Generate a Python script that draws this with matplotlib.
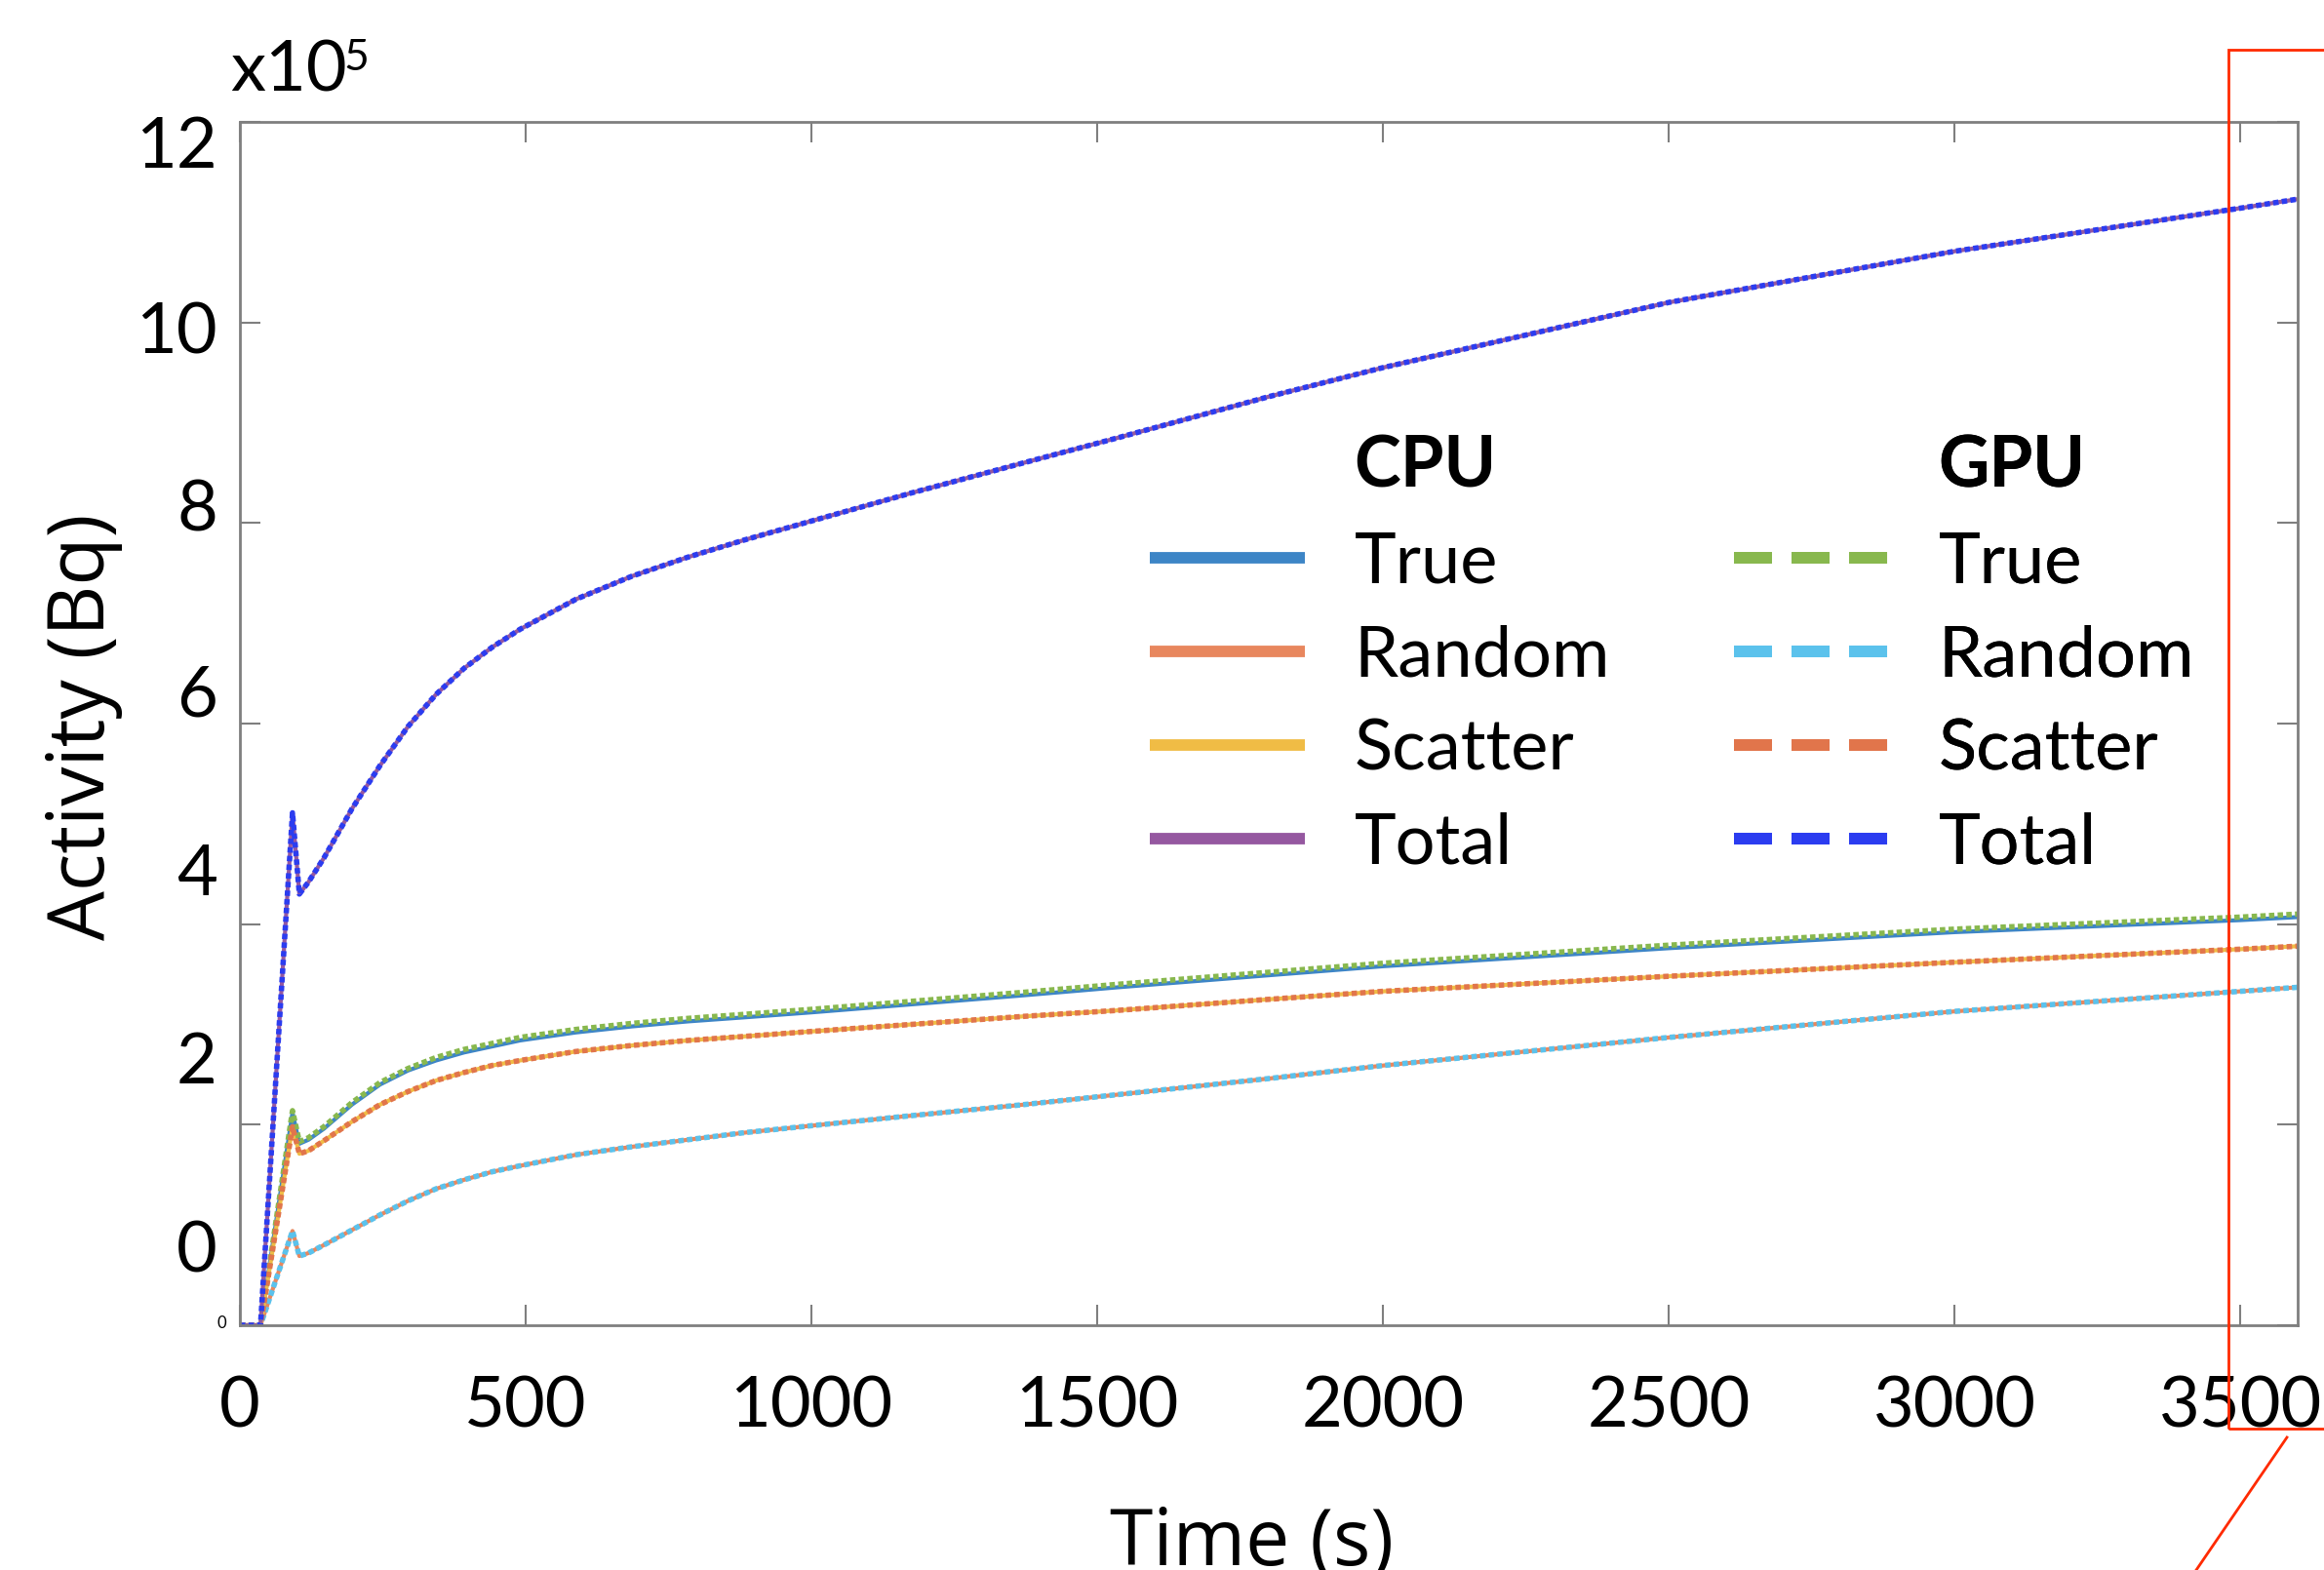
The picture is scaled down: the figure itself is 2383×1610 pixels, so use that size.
import matplotlib
matplotlib.use("Agg")
import matplotlib.pyplot as plt
from matplotlib.lines import Line2D
from matplotlib.patches import Rectangle
from matplotlib.font_manager import FontProperties

# activity in units of 1e5 Bq
time_s = [0, 36, 92, 104, 120, 147, 196, 245, 294, 343, 392, 441, 490, 588, 686,
          784, 882, 1000, 1175, 1371, 1536, 1800, 2000, 2500, 3000, 3500, 3600]

gpu_total = [0, 0, 5.11, 4.30, 4.42, 4.66, 5.15, 5.58, 5.97, 6.29, 6.55, 6.76, 6.94, 7.24, 7.47,
             7.66, 7.83, 8.02, 8.30, 8.60, 8.85, 9.26, 9.55, 10.20, 10.71, 11.14, 11.23]
gpu_true = [0, 0, 2.14, 1.83, 1.87, 1.98, 2.22, 2.42, 2.56, 2.67, 2.75, 2.81, 2.87, 2.95, 3.01,
            3.06, 3.10, 3.15, 3.23, 3.32, 3.40, 3.52, 3.61, 3.79, 3.95, 4.07, 4.10]
gpu_scatter = [0, 0, 1.98, 1.71, 1.74, 1.84, 2.03, 2.20, 2.33, 2.44, 2.52, 2.59, 2.64, 2.73, 2.79,
               2.84, 2.88, 2.93, 3.00, 3.08, 3.14, 3.25, 3.33, 3.48, 3.62, 3.75, 3.78]
gpu_random = [0, 0, 0.94, 0.69, 0.72, 0.80, 0.95, 1.10, 1.24, 1.36, 1.45, 1.53, 1.59, 1.70, 1.78,
              1.85, 1.92, 1.99, 2.09, 2.20, 2.30, 2.46, 2.59, 2.87, 3.13, 3.33, 3.37]

cpu_total = list(gpu_total)
cpu_true = [0, 0, 2.12, 1.81, 1.85, 1.96, 2.20, 2.40, 2.54, 2.64, 2.72, 2.78, 2.84, 2.92, 2.98,
            3.03, 3.07, 3.12, 3.20, 3.29, 3.37, 3.49, 3.58, 3.76, 3.92, 4.04, 4.07]
cpu_scatter = list(gpu_scatter)
cpu_random = list(gpu_random)

series_names = ["True", "Random", "Scatter", "Total"]
cpu_colors = ["#3D85C6", "#E8875E", "#F0BC45", "#9558A0"]
gpu_colors = ["#88B84E", "#5BC2EC", "#E1754B", "#2B3CF0"]

x_ticks = [0, 500, 1000, 1500, 2000, 2500, 3000, 3500]
y_tick_labels = ["12", "10", "8", "6", "4", "2", "0"]
y_label_pos = [11.74, 9.89, 8.12, 6.27, 4.49, 2.61, 0.73]

W, H = 2383, 1610
fig = plt.figure(figsize=(W / 100, H / 100), dpi=100)
ax = fig.add_axes([246 / W, 1 - 1359 / H, 2110 / W, 1234 / H])

cpu_data = [cpu_true, cpu_random, cpu_scatter, cpu_total]
gpu_data = [gpu_true, gpu_random, gpu_scatter, gpu_total]
for vals, c in zip(cpu_data, cpu_colors):
    ax.plot(time_s, vals, color=c, lw=3.0, solid_capstyle="butt")
for vals, c in zip(gpu_data, gpu_colors):
    ax.plot(time_s, vals, color=c, lw=4.0, dashes=(1.0, 0.6))

ax.set_xlim(0, 3600)
ax.set_ylim(0, 12)

gray = "#7f7f7f"
for sp in ax.spines.values():
    sp.set_color(gray)
    sp.set_linewidth(2)

tick_font = ["Lato", "DejaVu Sans"]
ax.set_xticks(x_ticks)
ax.set_xticklabels([str(v) for v in x_ticks], fontsize=52, family=tick_font)
ax.set_yticks(range(0, 13, 2))
ax.set_yticklabels([])
ax.tick_params(axis="both", direction="in", length=15, width=1.5, color=gray,
               top=True, right=True)
ax.tick_params(axis="x", pad=37)

ytrans = ax.get_yaxis_transform()
for lab, pos in zip(y_tick_labels, y_label_pos):
    ax.text(-23 / 2110, pos, lab, transform=ytrans, ha="right", va="center",
            fontsize=52, family=tick_font)
fig.text(232 / W, 1 - 1357 / H, "0", ha="right", va="center", fontsize=12, family=tick_font)

fig.text(236 / W, 1 - 94 / H, "x10", ha="left", va="baseline", fontsize=52, family=tick_font)
fig.text(352 / W, 1 - 72 / H, "5", ha="left", va="baseline", fontsize=32, family=tick_font)

label_font = ["Open Sans", "DejaVu Sans"]
fig.text(86 / W, 1 - 745 / H, "Activity (Bq)", rotation=90, ha="center", va="center",
         fontsize=58, family=label_font)
fig.text(1284 / W, 1 - 1605 / H, "Time (s)", ha="center", va="baseline",
         fontsize=58, family=label_font)

# legends: two columns, CPU solid and GPU dashed
prop = FontProperties(family=tick_font, size=52)
def make_legend(colors, header, x_px, dashed):
    handles = [Line2D([], [], lw=0)]
    for c in colors:
        if dashed:
            handles.append(Line2D([], [], color=c, lw=8.5, dashes=(3.3, 1.7)))
        else:
            handles.append(Line2D([], [], color=c, lw=8.5, solid_capstyle="butt"))
    leg = ax.legend(handles, [header] + series_names, loc="upper left",
                    bbox_to_anchor=(x_px / W, 1 - 446 / H), bbox_transform=fig.transFigure,
                    frameon=False, prop=prop, handlelength=2.2, handletextpad=0.7,
                    labelspacing=0.43, borderpad=0, borderaxespad=0)
    leg.get_texts()[0].set_fontweight("bold")
    ax.add_artist(leg)
    return leg

make_legend(cpu_colors, "CPU", 1179, False)
make_legend(gpu_colors, "GPU", 1778, True)

# red zoom marker overlaid on the slide
fig.add_artist(Rectangle((2285 / W, 1 - 1465 / H), 0.2, (1465 - 51) / H,
                         transform=fig.transFigure, fill=False, ec="#ff2a00", lw=2))
fig.add_artist(Line2D([2345 / W, 2252 / W], [1 - 1474 / H, 0], transform=fig.transFigure,
                      color="#ff2a00", lw=2))

fig.savefig("out.png", dpi=100)
